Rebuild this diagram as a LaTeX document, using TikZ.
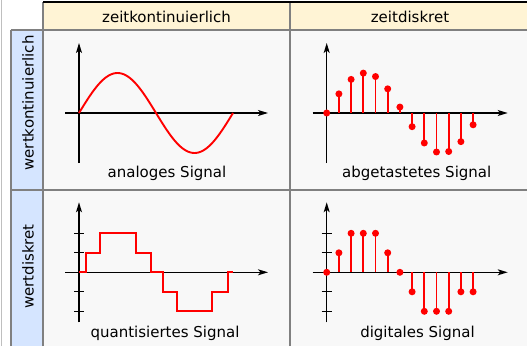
\documentclass[tikz,border=0pt]{standalone}
\usepackage{fontspec}
\setmainfont{DejaVu Sans}
\usetikzlibrary{arrows.meta}

\definecolor{kopfgelb}{RGB}{255,244,213}
\definecolor{zeilenblau}{RGB}{213,229,255}
\definecolor{feldgrau}{RGB}{248,248,248}
\definecolor{liniengrau}{RGB}{128,128,128}

\tikzset{
  achse/.style={line width=1.3pt,-{Stealth[length=10pt,width=6pt,inset=2.5pt]}},
  strich/.style={line width=1.3pt},
  signal/.style={red,line width=1.9pt},
  gitter/.style={liniengrau,line width=1.5pt},
  titel/.style={font=\fontsize{15}{18}\selectfont,inner sep=0pt},
}

\begin{document}
\begin{tikzpicture}[x=1pt,y=1pt]
\useasboundingbox (0,0) rectangle (527,346);

% Hintergrund und Tabelle
\fill[white] (0,0) rectangle (527,346);
\draw[black!25,line width=1.2pt] (1.5,0) -- (1.5,346);
\fill[feldgrau] (43,0) rectangle (527,316);
\fill[kopfgelb] (43,316) rectangle (527,344);
\fill[zeilenblau] (11,0) rectangle (43,316);
\draw[gitter] (11,316) -- (527,316);
\draw[gitter] (11,156) -- (527,156);
\draw[gitter] (11,0) -- (11,316);
\draw[gitter] (43,0) -- (43,344);
\draw[gitter] (290,0) -- (290,344);
\draw[black,line width=1.5pt] (43,344) -- (527,344);

% Kopfzeile und Zeilen
\node[titel] (kopfKont) at (166.5,329) {zeitkontinuierlich};
\node[titel] (kopfDiskret) at (410,329) {zeitdiskret};
\node[titel,rotate=90] (zeileKont) at (28,243) {wertkontinuierlich};
\node[titel,rotate=90] (zeileDiskret) at (28,79.5) {wertdiskret};

% analoges Signal
\begin{scope}[shift={(79,233)}]
  \draw[strich] (0,-50) -- (0,0);
  \draw[achse] (0,0) -- (0,70);
  \draw[achse] (-14,0) -- (189,0);
  \draw[signal] plot[domain=0:154,samples=80,smooth] (\x,{40*sin(\x/154*360)});
  \node[titel] (lblAnalog) at (88,-60) {analoges Signal};
\end{scope}

% abgetastetes Signal
\begin{scope}[shift={(326.7,233)}]
  \draw[strich] (0,-50) -- (0,0);
  \draw[achse] (0,0) -- (0,70);
  \draw[achse] (-14,0) -- (181,0);
  \foreach \n in {0,...,12}
  {
      \pgfmathsetmacro\wert{40*sin(360*\n/12.6)}
      \draw[signal] (12.2*\n,0) -- (12.2*\n,\wert);
      \fill[red] (12.2*\n,\wert) circle (3.5pt);
  }
  \node[titel] (lblAbgetastet) at (90,-60) {abgetastetes Signal};
\end{scope}

% quantisiertes Signal
\begin{scope}[shift={(79,73.7)}]
  \draw[strich] (0,-50) -- (0,0);
  \draw[achse] (0,0) -- (0,70);
  \draw[achse] (-14,0) -- (189,0);
  \foreach \y in {-2,-1,1,2}
      \draw[strich] (-5,19.5*\y) -- (5,19.5*\y);
  \draw[signal] (0,0)
    \foreach \x/\y in {7/0,7/1,21/1,21/2,57/2,57/1,72/1,72/0,84/0,84/-1,
                       98/-1,98/-2,133/-2,133/-1,149/-1,149/0,154/0}
    { -- (\x,19.5*\y) };
  \node[titel] (lblQuant) at (86,-60.7) {quantisiertes Signal};
\end{scope}

% digitales Signal
\begin{scope}[shift={(326.7,73.7)}]
  \draw[strich] (0,-50) -- (0,0);
  \draw[achse] (0,0) -- (0,70);
  \draw[achse] (-14,0) -- (181,0);
  \foreach \y in {-2,-1,1,2}
      \draw[strich] (-5,19.5*\y) -- (5,19.5*\y);
  \foreach \n in {0,...,12}
  {
      \pgfmathsetmacro\stufe{19.5*round(40*sin(360*\n/12.6)/19.5)}
      \draw[signal] (12.2*\n,0) -- (12.2*\n,\stufe);
      \fill[red] (12.2*\n,\stufe) circle (3.5pt);
  }
  \node[titel] (lblDigital) at (90.8,-60.7) {digitales Signal};
\end{scope}

\end{tikzpicture}
\end{document}
